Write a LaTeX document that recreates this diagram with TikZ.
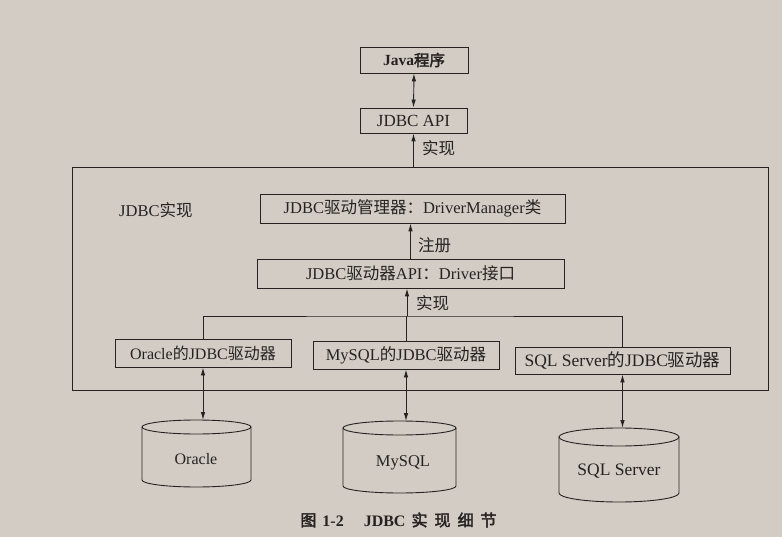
\documentclass[tikz,border=0pt]{standalone}
\usepackage{fontspec}
\setmainfont{Liberation Serif}
\newfontfamily\cjkfont{Noto Sans CJK SC}
\newfontfamily\cjkbold[FakeBold=2.5]{Noto Sans CJK SC}
\newcommand\zhtext[1]{{\cjkfont #1}}
\usetikzlibrary{arrows.meta}
\definecolor{paper}{RGB}{210,204,196}
\definecolor{ink}{RGB}{38,34,34}
\newcommand\dbcyl[6]{%
  \draw[wire] (#2,#4) ellipse [x radius=#3pt, y radius=#6pt];
  \draw[wire] (#2-#3,#4) -- (#2-#3,#5) arc[start angle=180,end angle=360,x radius=#3pt,y radius=#6pt] -- (#2+#3,#4);
  \coordinate (#1) at (#2,#4-#6);
}
\begin{document}
\begin{tikzpicture}[x=1pt,y=-1pt,
  box/.style={draw=ink, line width=0.9pt, inner sep=0pt, text=ink, font=\fontsize{16.5}{19}\selectfont},
  lbl/.style={text=ink, inner sep=0pt, font=\fontsize{16.5}{19}\selectfont},
  arr/.style={draw=ink, line width=0.9pt, -{Latex[length=8pt,width=4.5pt]}},
  darr/.style={draw=ink, line width=0.9pt, {Latex[length=8pt,width=4.5pt]}-{Latex[length=8pt,width=4.5pt]}},
  wire/.style={draw=ink, line width=0.9pt},
]
\fill[paper] (0,0) rectangle (782,537);
\useasboundingbox (0,0) rectangle (782,537);

% top boxes
\node[box, minimum width=108pt, minimum height=26pt, font=\fontsize{15.5}{18}\selectfont] (java) at (414,60) {\textbf{Java}{\cjkbold 程序}};
\node[box, minimum width=107pt, minimum height=25pt, font=\fontsize{17}{19}\selectfont] (api) at (413.5,120.5) {JDBC API};

% big implementation frame
\node[box, minimum width=696pt, minimum height=223pt] (impl) at (420,278.5) {};
\node[lbl, anchor=west] (impllbl) at (119,210) {JDBC\zhtext{实现}};

% manager and driver interface
\node[box, minimum width=305pt, minimum height=29pt] (dm) at (412.5,208.5) {JDBC\zhtext{驱动管理器：}DriverManager\zhtext{类}};
\node[box, minimum width=307pt, minimum height=29pt] (drv) at (410.5,273.5) {JDBC\zhtext{驱动器}API\zhtext{：}Driver\zhtext{接口}};

% vendor drivers
\node[box, minimum width=176pt, minimum height=28pt, font=\fontsize{16}{19}\selectfont] (ora) at (203,353) {Oracle\zhtext{的}JDBC\zhtext{驱动器}};
\node[box, minimum width=186pt, minimum height=28pt] (my) at (406,355) {MySQL\zhtext{的}JDBC\zhtext{驱动器}};
\node[box, minimum width=215pt, minimum height=27pt, font=\fontsize{17.5}{20}\selectfont] (sql) at (622.5,360.5) {SQL Server\zhtext{的}JDBC\zhtext{驱动器}};

% connectors at top
\draw[darr] (java.south) -- (api.north);
\draw[arr] (api.south |- impl.north) -- (api.south);
\node[lbl, anchor=west] (l1) at (422,148) {\zhtext{实现}};

\draw[arr] (drv.north) -- (drv.north |- dm.south);
\node[lbl, anchor=west] (l2) at (418,245) {\zhtext{注册}};

% tree
\coordinate (tj) at (407,316);
\draw[wire] (ora.north) |- (tj) -| (sql.north);
\draw[wire] (my.north) -- (my.north |- tj);
\draw[arr] (tj) -- (tj |- drv.south);
\node[lbl, anchor=west] (l3) at (416,303) {\zhtext{实现}};

% databases
\dbcyl{oratop}{196.5}{54.5}{427}{480}{7}
\dbcyl{mytop}{399.5}{56.5}{428}{486}{7}
\dbcyl{sqltop}{619}{60}{437}{493}{9}
\node[lbl, font=\fontsize{16}{19}\selectfont] (oradb) at (196,459) {Oracle};
\node[lbl, font=\fontsize{16.5}{19}\selectfont] (mydb) at (403,463) {MySQL};
\node[lbl, font=\fontsize{17.5}{20}\selectfont] (sqldb) at (619,471) {SQL Server};

\draw[darr] (ora.south) -- (ora.south |- oratop);
\draw[darr] (my.south) -- (my.south |- mytop);
\draw[darr] (sql.south) -- (sql.south |- sqltop);

% caption
\node[lbl, font=\fontsize{16}{19}\selectfont] (cap) at (398.5,520) {{\cjkbold 图}\hspace{6pt}\textbf{1-2}\hspace{20pt}\textbf{JDBC}\hspace{6pt}{\cjkbold 实\hspace{7pt}现\hspace{7pt}细\hspace{7pt}节}};
\end{tikzpicture}
\end{document}
